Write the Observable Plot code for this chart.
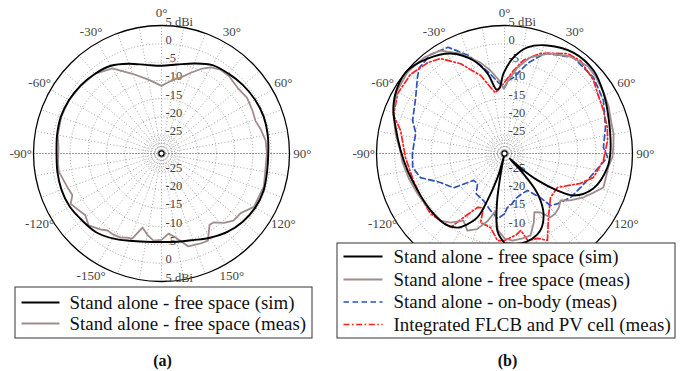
<!DOCTYPE html>
<html><head><meta charset="utf-8">
<script src="https://cdn.jsdelivr.net/npm/d3@7"></script>
<script src="https://cdn.jsdelivr.net/npm/@observablehq/plot@0.6"></script>
<style>body{margin:0;background:#fff} svg text{font-family:'Liberation Serif','Times New Roman',serif !important;}</style>
</head><body><div id="chart"></div>
<script>
// ---------- data (angle in degrees, clockwise from top; gain in dBi) ----------
const simA_deg = [-180,-170,-160,-150,-140,-130,-120,-110,-100,-90,-80,-70,-60,-50,-40,-30,-20,-10,0,10,20,30,40,50,60,70,80,90,100,110,120,130,140,150,160,170,180];
const simA_db  = [-5.8,-5.5,-4.6,-3.2,-2.0,-1.6,-1.0,-0.9,-1.1,-1.3,-1.0,-0.7,-0.8,-1.1,-1.6,-2.3,-3.9,-5.4,-6.0,-5.3,-3.8,-2.1,-1.5,-0.9,-0.5,-0.3,-0.5,-0.8,-0.7,-0.3,-0.4,-1.0,-2.0,-3.4,-4.8,-5.5,-5.8];

const measA_deg = [-180,-174.7,-170,-165.6,-161,-158,-154,-149,-145,-141,-134.6,-129,-124,-119,-115,-110,-100,-95,-87,-80,-70,-60,-50,-40,-30,-20,-10,0,5,10,14,20,25,30,35,41,49,57,65,71,76,83,90,100,108,114,120,127,133,138,143,146,152,157,164,170.5,175,180];
const measA_db  = [-6.4,-6.1,-7.5,-9.1,-5.4,-5.2,-4.4,-4.2,-4.3,-3.3,-2.0,-3.2,-2.5,-1.6,-3.1,-2.7,-1.5,-1.6,-1.8,-1.2,-0.8,-0.8,-1.2,-1.6,-3.1,-6.8,-9.5,-11.5,-10.5,-9.4,-8.6,-6.5,-4.5,-2.8,-2.0,-1.9,-2.5,-2.1,-2.5,-2.8,-2.1,-1.3,-1.2,-1.2,-0.6,-0.9,-0.8,-2.9,-3.1,-4.5,-6.4,-6.5,-3.0,-3.2,-3.6,-6.7,-8.0,-6.4];

const simB_deg = [-180,-175,-171.4,-169,-168,-166,-164,-160,-157,-152,-147.6,-141.6,-135,-127.6,-120,-113,-100,-88.3,-76.6,-67.5,-58.3,-49.4,-39,-28.4,-18.4,-12,-7,-4.3,-0.7,5.4,12.2,21.7,34.3,47,58.8,70.9,88.4,97.7,111.5,121.3,125,129,132,134,136.6,140.5,147,155,162,170,180];
const simB_db  = [-5.5,-8.5,-16.2,-26,-40,-28,-23.2,-16.3,-11,-8,-6,-4.9,-4.6,-4.5,-4.4,-4.2,-3.1,-1.6,0.6,2.9,4.4,4.9,3.4,1.1,-3.2,-7.6,-12.4,-12,-8.1,-3.6,-0.3,1.8,3.4,3.3,1.7,0.1,-1.0,-1.6,-3.9,-7.9,-12.3,-18.3,-24,-28,-23,-15.8,-10.4,-6.8,-5.5,-5.0,-5.5];

const measB_deg = [-180,-175,-171,-166,-160,-154.3,-148.5,-142,-136.3,-125,-114.7,-105,-95,-88,-80,-70,-60,-50,-40,-32,-23.7,-14.8,-9.6,-4,-0.6,3,8.6,15,24,33.8,43.7,50,58.8,66,74,80,86.8,92,97.7,103,109,114,119,125.5,130,135,140,144.3,148.6,153,157,162.4,168,174.7,180];
const measB_db  = [-6.8,-9,-14,-11,-8,-6.6,-8.5,-6,-4.6,-4.3,-3.8,-3.0,-2.0,-1.4,0.2,2.4,4.0,4.6,4.2,3.2,-0.2,-4.3,-7,-10,-12.3,-10,-6.2,-2.8,0.0,2.0,3.0,2.6,1.8,1.2,0.4,0.3,-0.2,-0.5,-1.4,-1.5,-1.4,-3.5,-5.3,-7.9,-10,-9,-8.5,-8.5,-11.1,-12,-9.5,-6.5,-6.3,-6.1,-6.8];

const bodyB_deg = [-180,-174,-166,-156,-145,-138,-131,-124,-114.4,-106,-98.7,-90,-77,-70.3,-57.8,-48.9,-45,-37,-28,-20,-16,-10,-5,0,3,6.8,14.3,20.2,23.3,35.7,49.5,61.8,75.6,86.5,92,102.7,114,123.7,133.3,138.5,141,148,157,166,172,177,180];
const bodyB_db  = [-13.5,-12.1,-14,-15.9,-16.5,-19,-18.8,-13.2,-10.8,-6.1,-4.6,-4.8,-5.1,-3.3,-1.3,1.6,3.0,3.8,2.9,-1.5,-4.5,-8,-10.5,-12,-10,-9.1,-4.6,-1.5,-0.2,2.3,2.0,0.7,-1.5,-2.9,-1.8,-5.1,-7.2,-8.3,-10,-11,-14.5,-18.1,-18,-17.3,-16,-15.2,-13.5];

const pvB_deg = [-180,-175.4,-169.3,-161,-158.7,-153.4,-147.4,-143.9,-129,-119.8,-106.5,-92.3,-77.5,-71,-60.7,-50,-40,-34,-26,-17,-12,-8.4,-0.8,6.2,11.5,19.8,32.2,39.3,50.6,57.2,66.5,75.8,82.8,94,105,111.5,122.7,133.7,145.5,153.7,158.8,165,168,172,180];
const pvB_db  = [-6.2,-6.1,-9.4,-10,-14.1,-13.5,-9.2,-5,-3.9,-4.2,-4.0,-2.9,-0.9,2.1,3.5,3.6,2.5,1.3,-2.7,-7.7,-11.5,-13.2,-10.9,-7.2,-4,-0.9,2.3,2.8,1.5,0.3,-0.5,-1,-1.6,-2.9,-4.8,-7.7,-12.8,-12.6,-8.8,-3.5,-5.1,-5.4,-8.5,-7.5,-6.2];

const ringTicks = [-25,-20,-15,-10,-5,0,5];
const ringTickLabels = ["-25","-20","-15","-10","-5","0","5 dBi"];
const angleTicks = [0,30,60,90,120,150,-150,-120,-90,-60,-30];
const legendA = ["Stand alone - free space (sim)","Stand alone - free space (meas)"];
const legendB = ["Stand alone - free space (sim)","Stand alone - free space (meas)","Stand alone - on-body (meas)","Integrated FLCB and PV cell (meas)"];
const captions = ["(a)","(b)"];

// ---------- layout ----------
const W = 689, H = 371;
const FLOOR = -30, TOP = 5;
const K = 128 / (TOP - FLOOR);         // px per dB
const U = px => px / K;                 // px -> plot units
const R = TOP - FLOOR;
const centers = {a: {x: U(161), y: U(153)}, b: {x: U(504), y: U(153)}};
const rad = d => d * Math.PI / 180;
const SERIF = "'Liberation Serif', 'Times New Roman', serif";
// parts of panel (b) hidden below its legend box are not drawn
const visible = {a: {ringBottom: ringTicks, angles: angleTicks},
                 b: {ringBottom: ringTicks.filter(v => v <= -10), angles: angleTicks.filter(a => Math.abs(a) <= 120)}};

const styles = {
  sim:  {stroke: "#000000", strokeWidth: 1.9, curve: "catmull-rom"},
  meas: {stroke: "#a08c8c", strokeWidth: 1.8, curve: "linear"},
  body: {stroke: "#2f52b8", strokeWidth: 1.7, curve: "linear", strokeDasharray: "5.5,3.5"},
  pv:   {stroke: "#ff1f1f", strokeWidth: 1.7, curve: "linear", strokeDasharray: "6,2.5,1.6,2.5"}
};

function toPoints(panel, degs, dbs) {
  const c = centers[panel];
  return degs.map((a, i) => {
    const r = Math.max(0, dbs[i] - FLOOR);
    return {x: c.x + r * Math.sin(rad(a)), y: c.y - r * Math.cos(rad(a))};
  });
}

const series = [
  {panel: "a", key: "meas", pts: toPoints("a", measA_deg, measA_db)},
  {panel: "a", key: "sim",  pts: toPoints("a", simA_deg, simA_db)},
  {panel: "b", key: "body", pts: toPoints("b", bodyB_deg, bodyB_db)},
  {panel: "b", key: "pv",   pts: toPoints("b", pvB_deg, pvB_db)},
  {panel: "b", key: "meas", pts: toPoints("b", measB_deg, measB_db)},
  {panel: "b", key: "sim",  pts: toPoints("b", simB_deg, simB_db)}
];

const marks = [];
const gridLevels = [-29,-28,-27,-26,-25,-20,-15,-10,-5,0];
const spokes = d3.range(0, 360, 10);
const txt = {fontFamily: SERIF, fill: "#444"};

for (const p of ["a","b"]) {
  const c = centers[p];
  marks.push(Plot.dot(gridLevels, {x: () => c.x, y: () => c.y, r: d => (d - FLOOR) * K, fill: "none", stroke: "#8c8c8c", strokeWidth: 0.8, strokeDasharray: "1,2"}));
  marks.push(Plot.link(spokes.filter(a => a % 180 !== 90), {
    x1: () => c.x, y1: () => c.y,
    x2: a => c.x + R * Math.sin(rad(a)), y2: a => c.y - R * Math.cos(rad(a)),
    stroke: "#8c8c8c", strokeWidth: 0.8, strokeDasharray: "1,2.2"}));
  marks.push(Plot.link([90], {
    x1: () => c.x - R, y1: () => c.y, x2: () => c.x + R, y2: () => c.y,
    stroke: "#222", strokeWidth: 0.9, strokeDasharray: "1,2"}));
  marks.push(Plot.dot([TOP], {x: () => c.x, y: () => c.y, r: d => (d - FLOOR) * K, fill: "none", stroke: "#000", strokeWidth: 1.3}));
  const ticks = ringTicks.map((v, i) => ({v, label: ringTickLabels[i]}));
  marks.push(Plot.text(ticks, {x: () => c.x, y: d => c.y - (d.v - FLOOR), text: "label", dx: 4, dy: -4, textAnchor: "start", fontSize: 12.5, ...txt}));
  marks.push(Plot.text(ticks.filter(d => visible[p].ringBottom.includes(d.v)), {x: () => c.x, y: d => c.y + (d.v - FLOOR), text: "label", dx: 4, dy: -4, textAnchor: "start", fontSize: 12.5, ...txt}));
  marks.push(Plot.text(visible[p].angles, {x: a => c.x + 38.5 * Math.sin(rad(a)), y: a => c.y - 38.5 * Math.cos(rad(a)), text: a => `${a}°`, fontSize: 13, ...txt}));
}

for (const s of series) {
  const st = styles[s.key];
  marks.push(Plot.line(s.pts, {x: "x", y: "y", stroke: st.stroke, strokeWidth: st.strokeWidth, curve: st.curve, strokeDasharray: st.strokeDasharray, strokeLinejoin: "round"}));
}
for (const p of ["a","b"]) {
  const c = centers[p];
  marks.push(Plot.dot([0], {x: () => c.x, y: () => c.y, r: () => 2.6, fill: "white", stroke: "#000", strokeWidth: 1.2}));
}

// ---------- legends ----------
function legend(labels, keys, box, rowsY, lineX, textX) {
  marks.push(Plot.rect([0], {x1: () => U(box[0]), x2: () => U(box[1]), y1: () => U(box[2]), y2: () => U(box[3]), fill: "white", stroke: "#333", strokeWidth: 1}));
  labels.forEach((label, i) => {
    const st = styles[keys[i]];
    marks.push(Plot.link([label], {x1: () => U(lineX[0]), x2: () => U(lineX[1]), y1: () => U(rowsY[i]), y2: () => U(rowsY[i]), stroke: st.stroke, strokeWidth: st.strokeWidth, strokeDasharray: st.strokeDasharray}));
    marks.push(Plot.text([label], {x: () => U(textX), y: () => U(rowsY[i]), text: d => d, textAnchor: "start", fontSize: 18.9, fontFamily: SERIF, fill: "#111"}));
  });
}
legend(legendA, ["sim","meas"], [15, 312, 287, 338], [302, 323], [21, 59], 69);
legend(legendB, ["sim","meas","body","pv"], [337, 675, 243, 338], [256, 279, 301.5, 324], [343, 382], 393);

marks.push(Plot.text(captions, {x: (d, i) => i === 0 ? U(162) : U(507), y: () => U(360), text: d => d, fontSize: 16, fontWeight: "bold", fontFamily: SERIF, fill: "#111"}));

const chart = Plot.plot({
  width: W, height: H, margin: 0,
  x: {domain: [0, U(W)], range: [0, W], axis: null},
  y: {domain: [0, U(H)], range: [0, H], axis: null},
  r: {type: "identity"},
  style: {background: "white", fontFamily: SERIF},
  marks
});
document.getElementById("chart").append(chart);
</script>
</body></html>
